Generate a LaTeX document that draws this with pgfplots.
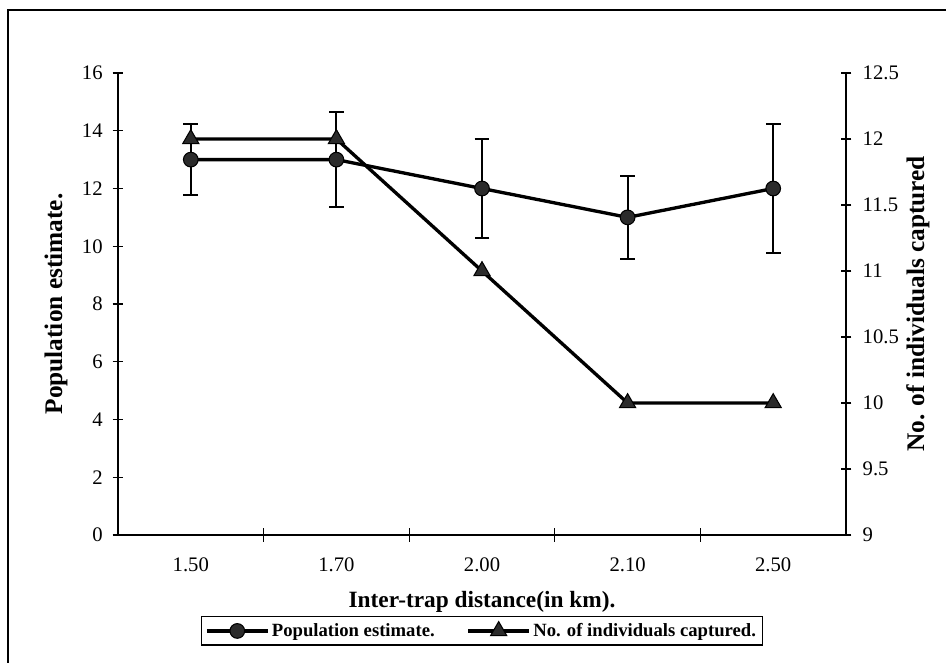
\documentclass[border=0pt]{standalone}
\usepackage{pgfplots}
\pgfplotsset{compat=1.18}
\usepackage{fontspec}
\setmainfont{Liberation Serif}

% population estimate with its error half-widths
\pgfplotstableread{
x  pop  err
0  13   1.22
1  13   1.64
2  12   1.72
3  11   1.43
4  12   2.23
}\popdata
% individuals captured (right axis)
\pgfplotstableread{
x  ind
0  12
1  12
2  11
3  10
4  10
}\inddata

\definecolor{markfill}{HTML}{2B2B2B}

\begin{document}
\begin{tikzpicture}
\useasboundingbox (-88.5pt,-96pt) rectangle (621pt,401.25pt);
\pgfplotsset{
  base/.style={
    scale only axis,
    width=546pt, height=346.5pt,
    xmin=-0.5, xmax=4.5,
    tick align=center,
    major tick length=8pt,
    tick style={line width=0.9pt, black},
    axis line style={line width=1.1pt},
    /pgf/number format/assume math mode=true,
    tick label style={font=\fontsize{15.5}{18}\selectfont},
  }
}
\begin{axis}[base,
  at={(0pt,0pt)}, anchor=south west,
  axis x line=bottom, axis y line=left,
  axis line style={-, line width=1.1pt},
  ymin=0, ymax=16, ytick={0,2,...,16},
  xtick={0,...,4},
  xticklabels={1.50,1.70,2.00,2.10,2.50},
  major x tick style={draw=none},
  minor xtick={0.5,1.5,2.5,3.5},
  minor tick length=10pt,
  minor x tick style={line width=0.9pt, black},
  xticklabel style={anchor=center, yshift=-18pt},
  yticklabel style={xshift=-4pt},
  xlabel={Inter-trap distance(in km).},
  xlabel style={font=\bfseries\fontsize{17.5}{20}\selectfont,
    at={(axis description cs:0.5,0)}, anchor=center, yshift=-50pt},
  ylabel={Population estimate.},
  ylabel style={font=\bfseries\fontsize{19}{22}\selectfont,
    at={(axis description cs:0,0.5)}, anchor=center, yshift=46.5pt},
  legend columns=2,
  legend style={at={(0.5,-0.1753)}, anchor=north,
    font=\bfseries\fontsize{14}{16}\selectfont,
    draw=black, line width=1.1pt,
    /tikz/every even column/.append style={column sep=22pt},
    inner sep=3pt},
  legend image code/.code={%
    \draw[mark repeat=2, mark phase=2]
      plot coordinates {(0cm,0cm) (0.8cm,0cm) (1.6cm,0cm)};},
  legend image post style={line width=2.4pt},
]
\addplot[black, line width=2.5pt, mark=*, mark size=5.5pt,
  mark options={fill=markfill, line width=0.8pt},
  error bars/.cd, y dir=both, y explicit,
  error bar style={line width=1.5pt},
  error mark options={rotate=90, mark size=5.5pt, line width=1.5pt}]
  table[x=x, y=pop, y error=err] {\popdata};
\addlegendentry{Population estimate.}
\addlegendimage{black, line width=2.5pt, mark=triangle*, mark size=7pt,
  mark options={fill=markfill, line width=0.8pt}}
\addlegendentry{No. of individuals captured.}
\end{axis}

\begin{axis}[base,
  at={(0pt,0pt)}, anchor=south west,
  axis x line=none, axis y line=right,
  axis line style={-, line width=1.1pt},
  ymin=9, ymax=12.5, ytick={9,9.5,...,12.5},
  yticklabel style={xshift=5pt},
  ylabel={No. of individuals captured},
  ylabel style={font=\bfseries\fontsize{19}{22}\selectfont,
    at={(axis description cs:1,0.5)}, anchor=center, yshift=-54pt},
]
\addplot[black, line width=2.5pt, mark=triangle*, mark size=7pt,
  mark options={fill=markfill, line width=0.8pt}]
  table[x=x, y=ind] {\inddata};
\end{axis}

% outer frame (left and top edges fall inside the page)
\draw[line width=1.3pt] (-82.5pt,-96pt) -- (-82.5pt,393.75pt) -- (621pt,393.75pt);
\end{tikzpicture}
\end{document}
